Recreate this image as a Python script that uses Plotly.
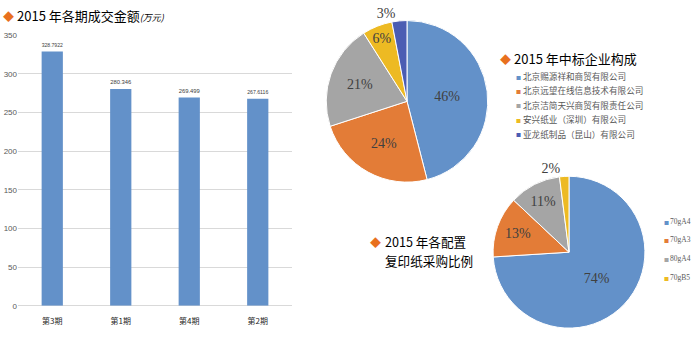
import plotly.graph_objects as go

W, H = 691, 337

# 2015 transaction amount by period (10k yuan)
periods = ["第3期", "第1期", "第4期", "第2期"]
amounts = [328.7922, 280.346, 269.499, 267.6116]
amount_labels = ["328.7922", "280.346", "269.499", "267.6116"]
y_ticks = [0, 50, 100, 150, 200, 250, 300, 350]

# Winning-bid companies
companies = ["北京赐源祥和商贸有限公司", "北京远望在线信息技术有限公司",
             "北京洁简天兴商贸有限责任公司", "安兴纸业（深圳）有限公司",
             "亚龙纸制品（昆山）有限公司"]
company_share = [46, 24, 21, 6, 3]
company_colors = ["#6391C9", "#E37C37", "#A5A5A5", "#EDBA23", "#4B5DB3"]

# Copy paper purchase by spec
paper_specs = ["70gA4", "70gA3", "80gA4", "70gB5"]
paper_share = [74, 13, 11, 2]
paper_colors = ["#6391C9", "#E37C37", "#A5A5A5", "#EDBA23"]

ORANGE = "#E8701E"
CJK = "Noto Sans CJK SC"
SERIF = "Liberation Serif"
NARROW = "Liberation Sans Narrow, Liberation Sans, sans-serif"


def px_x(x):
    return x / W


def px_y(y):
    return (H - y) / H


fig = go.Figure()

fig.add_trace(go.Bar(
    x=periods, y=amounts, width=0.31,
    marker=dict(color="#6391C9", line=dict(width=0)),
    text=amount_labels, textposition="outside",
    textfont=dict(family=NARROW, size=7.5, color="#404040"),
    cliponaxis=False, showlegend=False, hoverinfo="x+y",
))

fig.add_trace(go.Pie(
    labels=companies, values=company_share, sort=False, direction="clockwise",
    rotation=0, marker=dict(colors=company_colors, line=dict(color="white", width=1)),
    texttemplate="%{value}%",
    textposition=["inside", "inside", "inside", "inside", "outside"],
    insidetextorientation="horizontal",
    textfont=dict(family=SERIF, size=14, color="#404040"),
    domain=dict(x=[px_x(324), px_x(490)], y=[px_y(183), px_y(17)]),
    showlegend=False, automargin=False,
))

fig.add_trace(go.Pie(
    labels=paper_specs, values=paper_share, sort=False, direction="clockwise",
    rotation=0, marker=dict(colors=paper_colors, line=dict(color="white", width=1)),
    texttemplate="%{value}%",
    textposition=["inside", "inside", "inside", "outside"],
    insidetextorientation="horizontal",
    textfont=dict(family=SERIF, size=14, color="#404040"),
    domain=dict(x=[px_x(491), px_x(647)], y=[px_y(333), px_y(177)]),
    showlegend=False, automargin=False,
))

annotations = []


def label(x, y, text, size, color="#000000", family=CJK, anchor="left"):
    annotations.append(dict(
        x=px_x(x), y=px_y(y), xref="paper", yref="paper", text=text,
        showarrow=False, xanchor=anchor, yanchor="middle", align="left",
        font=dict(family=family, size=size, color=color),
    ))


# section headings
label(1, 12, "◆", 11, ORANGE)
label(15, 12, "2015 年各期成交金额<i><span style='font-size:9px'>(万元)</span></i>", 13)
label(498, 56, "◆", 11, ORANGE)
label(512, 56, "2015 年中标企业构成", 13)
label(368, 245, "◆", 11, ORANGE)
label(383, 244.5, "2015 年各配置", 12.6)
label(383, 263.5, "复印纸采购比例", 12.6)

# company legend
for i, (name, col) in enumerate(zip(companies, company_colors)):
    y = 74 + i * 14.8
    label(514, y, f"<span style='color:{col}'>■</span>", 5, col)
    label(521, y, name, 8.6, "#595959")

# paper spec legend
for i, (name, col) in enumerate(zip(paper_specs, paper_colors)):
    y = 223 + i * 19.3
    label(662, y, f"<span style='color:{col}'>■</span>", 5, col)
    label(668, y, name, 7.5, "#595959", SERIF)

fig.update_layout(
    width=W, height=H, margin=dict(l=0, r=0, t=0, b=0),
    paper_bgcolor="white", plot_bgcolor="white",
    annotations=annotations,
    xaxis=dict(
        domain=[px_x(18), px_x(292)], range=[-0.5, 3.5],
        showgrid=False, zeroline=False, showline=False, ticks="",
        ticklabelstandoff=9,
        tickfont=dict(family=CJK, size=8, color="#262626"),
        fixedrange=True,
    ),
    yaxis=dict(
        domain=[px_y(310), px_y(32)], range=[0, 350],
        tickvals=y_ticks, ticktext=[str(v) for v in y_ticks],
        showgrid=True, gridcolor="#D9D9D9", gridwidth=1,
        zeroline=True, zerolinecolor="#D9D9D9", zerolinewidth=1,
        showline=False, ticks="",
        tickfont=dict(family=NARROW, size=8, color="#595959"),
        fixedrange=True,
    ),
    bargap=0.69,
)

fig.write_html("out.html")
